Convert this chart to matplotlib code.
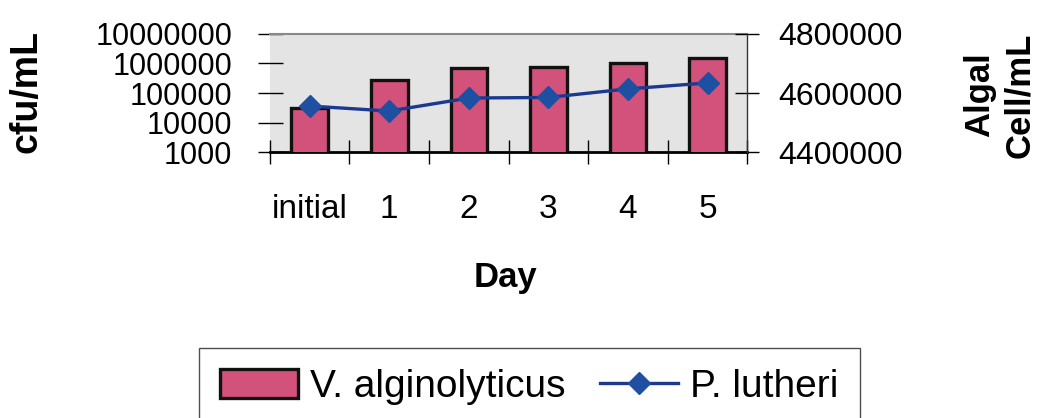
import matplotlib.pyplot as plt
from matplotlib.patches import Patch
from matplotlib.lines import Line2D

# categories and values
days = ["initial", "1", "2", "3", "4", "5"]
vibrio_cfu = [31000, 275000, 700000, 750000, 1000000, 1500000]
algal_cells = [4556000, 4539000, 4583000, 4585000, 4614000, 4634000]

left_ticks = [1000, 10000, 100000, 1000000, 10000000]
right_ticks = [4400000, 4600000, 4800000]

plt.rcParams['font.family'] = ['Liberation Sans', 'DejaVu Sans']

fig = plt.figure(figsize=(10.38, 4.18), dpi=100)
ax = fig.add_axes([0.260, 0.636, 0.460, 0.283])
ax.set_facecolor('#e4e4e4')

x = list(range(len(days)))
ax.bar(x, vibrio_cfu, width=0.46, bottom=0, color='#d2527b',
       edgecolor='#111111', linewidth=2.4, zorder=3)
ax.set_yscale('log')
ax.set_ylim(left_ticks[0], left_ticks[-1])
ax.set_xlim(-0.5, len(days) - 0.5)
ax.set_yticks(left_ticks)
ax.set_yticklabels([str(v) for v in left_ticks])
ax.minorticks_off()
ax.tick_params(axis='y', direction='inout', length=18, width=1, labelsize=22, pad=18)

# category boundaries get the tick marks, labels sit in the middle
ax.set_xticks([i - 0.5 for i in range(len(days) + 1)])
ax.set_xticklabels([])
ax.set_xticks(x, minor=True)
ax.set_xticklabels(days, minor=True)
ax.tick_params(axis='x', which='major', direction='inout', length=17, width=1)
ax.tick_params(axis='x', which='minor', length=0, labelsize=24, pad=30)

ax.spines['left'].set_visible(False)
ax.spines['top'].set_color('#888888')
ax.spines['top'].set_linewidth(1.5)
ax.spines['bottom'].set_linewidth(2)
ax.spines['right'].set_visible(False)

ax2 = ax.twinx()
ax2.plot(x, algal_cells, color='#1b3a8f', linewidth=2.4, marker='D',
         markersize=11, markerfacecolor='#1f4fa0', markeredgecolor='#1f4fa0', zorder=4)
ax2.set_ylim(right_ticks[0], right_ticks[-1])
ax2.set_yticks(right_ticks)
ax2.set_yticklabels([str(v) for v in right_ticks])
ax2.tick_params(axis='y', direction='inout', length=17, width=1, labelsize=23, pad=14)
for s in ['left', 'top', 'bottom']:
    ax2.spines[s].set_visible(False)
ax2.spines['right'].set_color('#333333')
ax2.spines['right'].set_linewidth(1)

fig.text(0.026, 0.78, 'cfu/mL', rotation=90, ha='center', va='center',
         fontsize=27, fontweight='bold')
fig.text(0.963, 0.773, 'Algal\nCell/mL', rotation=90, ha='center', va='center',
         fontsize=25, fontweight='bold', linespacing=1.3, multialignment='center')
fig.text(0.487, 0.335, 'Day', ha='center', va='center', fontsize=25, fontweight='bold')

handles = [
    Patch(facecolor='#d2527b', edgecolor='#111111', linewidth=2.4),
    Line2D([0], [0], color='#1b3a8f', linewidth=2.4, marker='D', markersize=11,
           markerfacecolor='#1f4fa0', markeredgecolor='#1f4fa0'),
]
leg = fig.legend(handles, ['V. alginolyticus', 'P. lutheri'], loc='upper center',
                 bbox_to_anchor=(0.510, 0.168), ncol=2, fontsize=28, frameon=True,
                 fancybox=False, edgecolor='#222222', handlelength=2.0,
                 handleheight=0.75, handletextpad=0.3, columnspacing=0.9,
                 borderpad=0.55, borderaxespad=0)
leg.get_frame().set_linewidth(1)

fig.savefig('out.png', dpi=100)
